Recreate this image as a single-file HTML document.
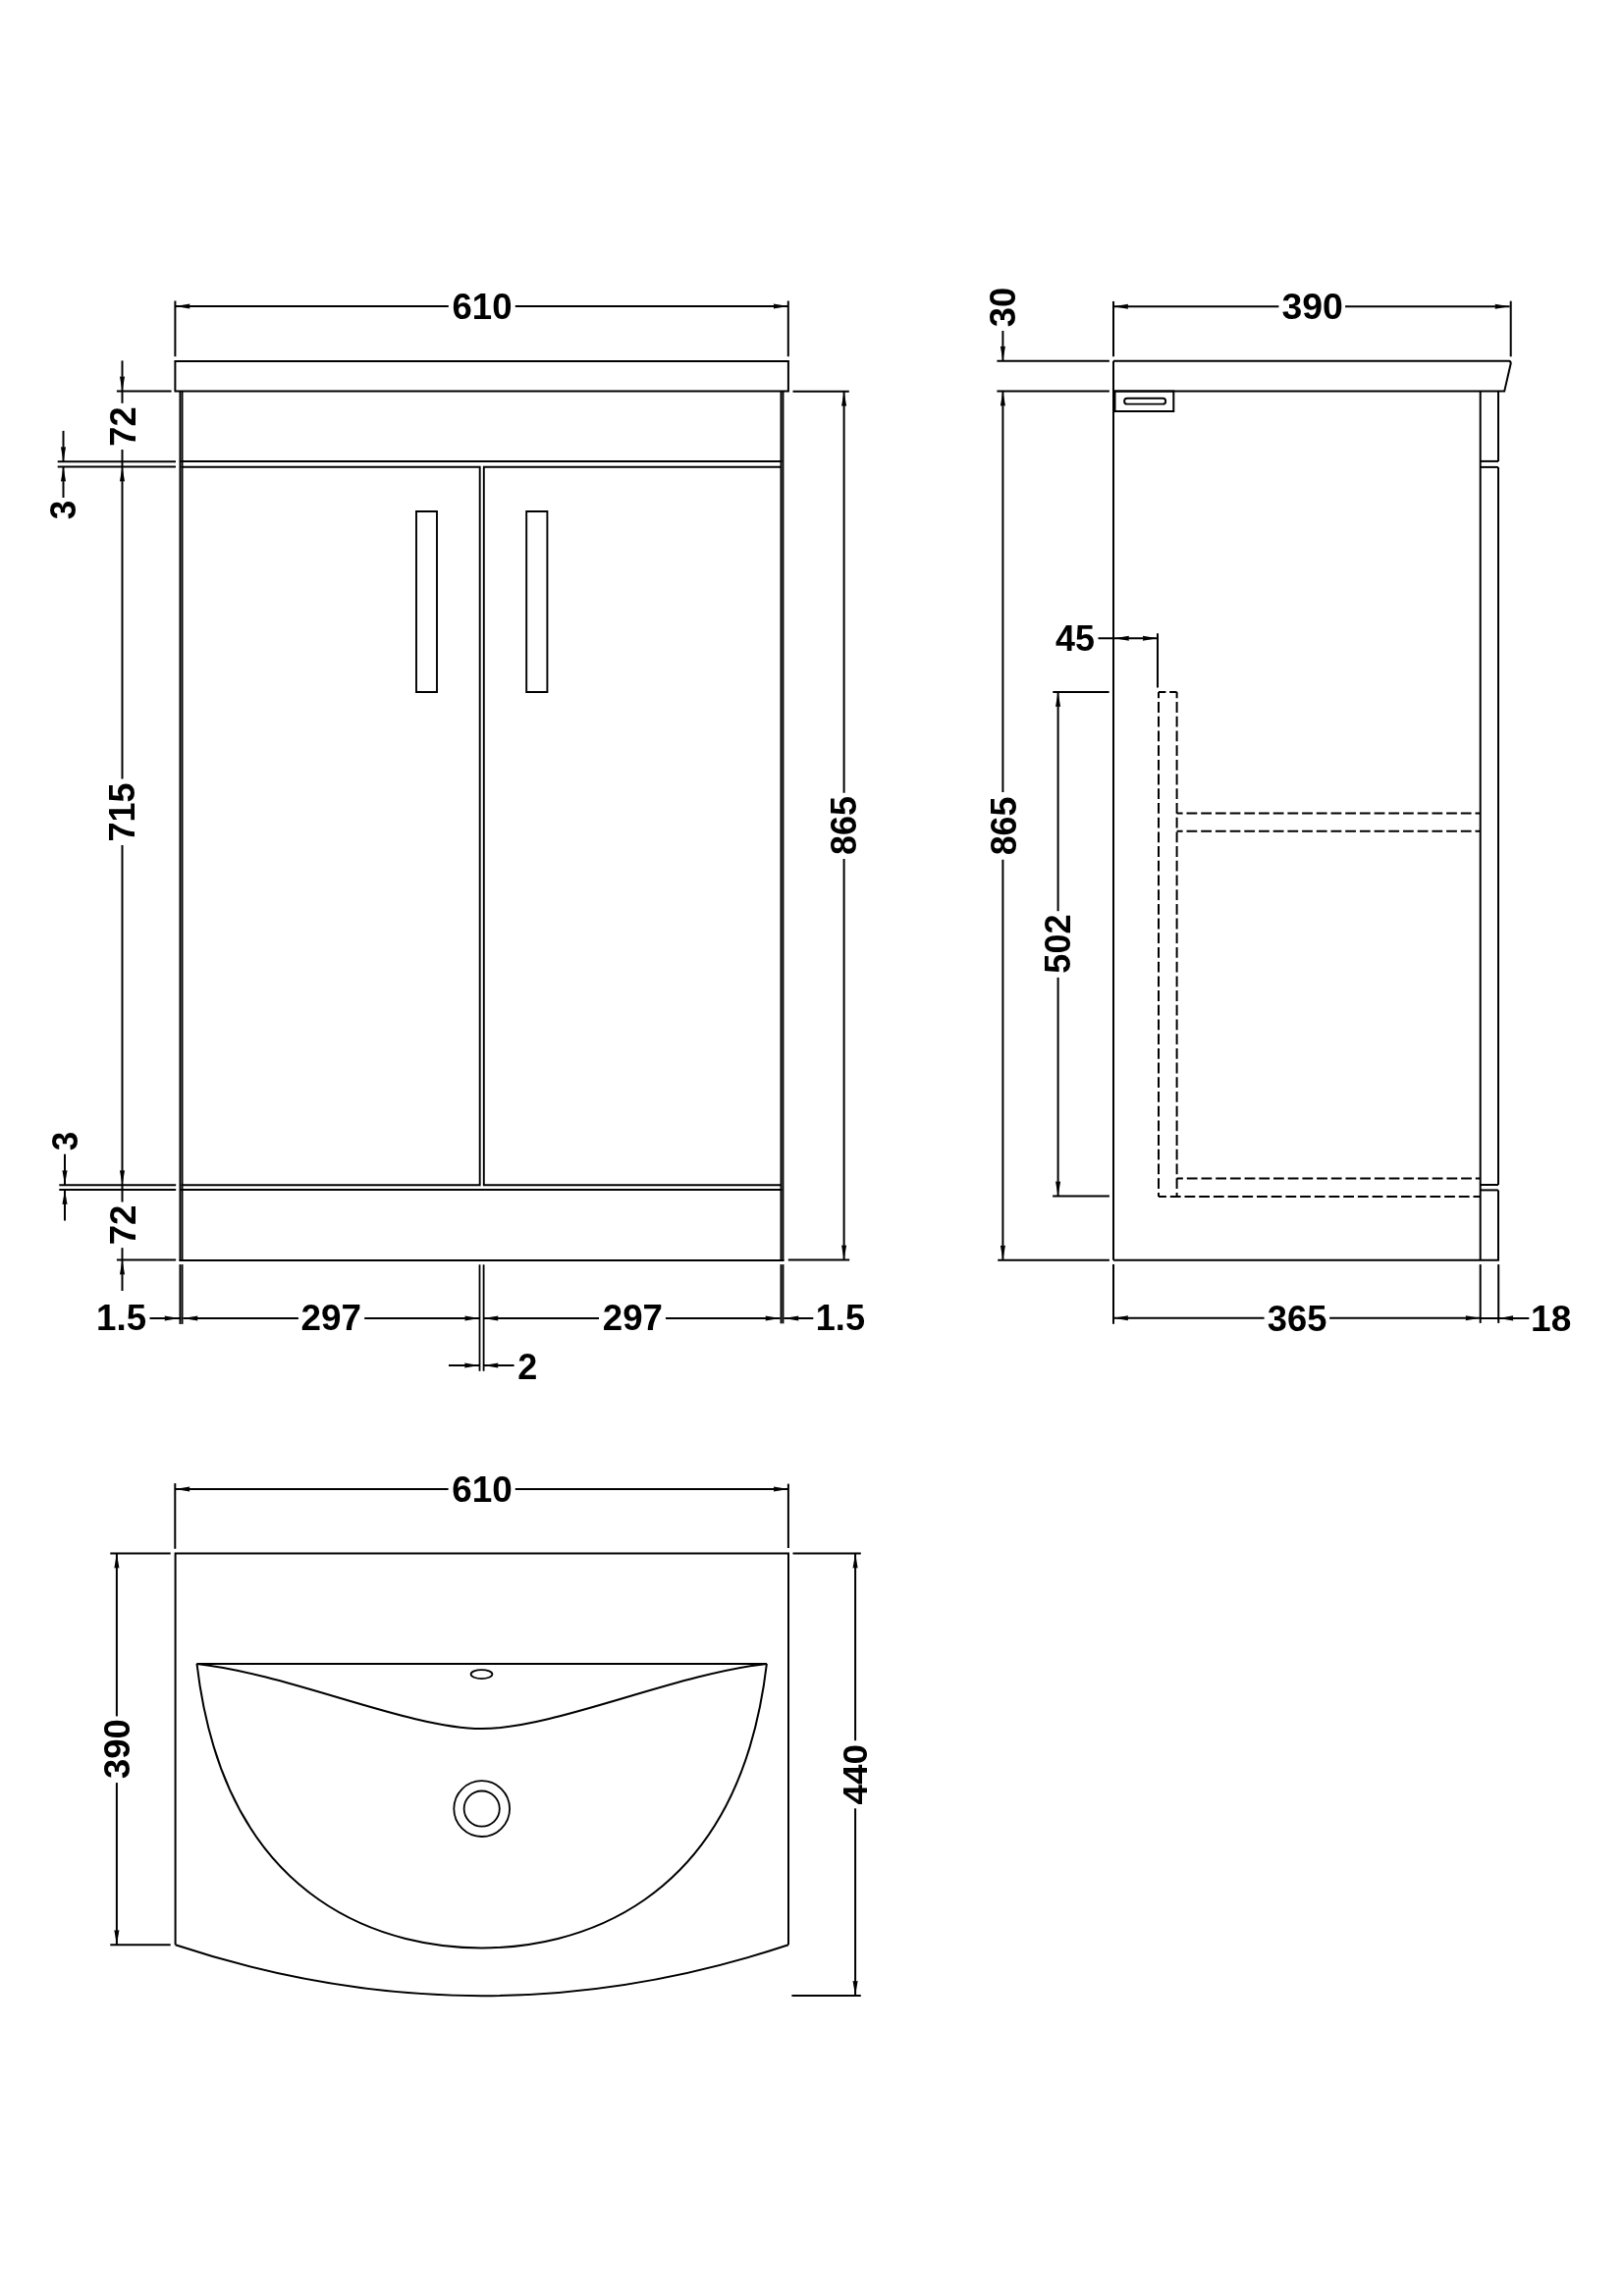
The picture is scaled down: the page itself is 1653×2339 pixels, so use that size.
<!DOCTYPE html>
<html><head><meta charset="utf-8"><style>
html,body{margin:0;padding:0;background:#fff;}
svg{display:block;filter:grayscale(1);}
text{font-family:"Liberation Sans",sans-serif;font-weight:bold;fill:#000;stroke:none;}
</style></head><body>
<svg width="1653" height="2339" viewBox="0 0 1653 2339" stroke="#000" stroke-linecap="butt">
<rect width="1653" height="2339" fill="#fff" stroke="none"/>
<line x1="178.4" y1="306.5" x2="178.4" y2="363.2" stroke-width="2.0"/>
<line x1="802.8" y1="306.5" x2="802.8" y2="363.2" stroke-width="2.0"/>
<line x1="178.4" y1="312" x2="456.8" y2="312" stroke-width="2.0"/>
<line x1="524.8" y1="312" x2="802.8" y2="312" stroke-width="2.0"/>
<path d="M178.40,312.00 L193.40,309.45 L192.90,312.00 L193.40,314.55Z" fill="#000" stroke="none"/>
<path d="M802.80,312.00 L787.80,309.45 L788.30,312.00 L787.80,314.55Z" fill="#000" stroke="none"/>
<text x="0" y="0" font-size="100.0" transform="matrix(0.36614,0.00000,0.00000,0.37042,460.51850,324.82958)">610</text>
<path d="M178.4,368.1 H802.9 V398.6 H178.4 Z" stroke-width="2.0" fill="none"/>
<line x1="183.45" y1="398.6" x2="183.45" y2="1284" stroke-width="1.9"/>
<line x1="185.55" y1="398.6" x2="185.55" y2="1284" stroke-width="1.9"/>
<line x1="795.5" y1="398.6" x2="795.5" y2="1284" stroke-width="1.9"/>
<line x1="797.5" y1="398.6" x2="797.5" y2="1284" stroke-width="1.9"/>
<line x1="184" y1="470.1" x2="796.5" y2="470.1" stroke-width="2.0"/>
<path d="M184.5,475.7 H488.7 V1207.2 H184.5" stroke-width="1.9" fill="none"/>
<path d="M796,475.7 H492.8 V1207.2 H796" stroke-width="1.9" fill="none"/>
<line x1="184" y1="1212.1" x2="796.5" y2="1212.1" stroke-width="2.0"/>
<line x1="182.4" y1="1283.9" x2="798.6" y2="1283.9" stroke-width="2.0"/>
<path d="M424,521 H445 V705 H424 Z" stroke-width="1.9" fill="none"/>
<path d="M536.2,521 H557.4 V705 H536.2 Z" stroke-width="1.9" fill="none"/>
<line x1="124.5" y1="367.4" x2="124.5" y2="410.8" stroke-width="2.0"/>
<path d="M124.50,398.50 L121.95,383.50 L124.50,384.00 L127.05,383.50Z" fill="#000" stroke="none"/>
<text x="0" y="0" font-size="100.0" transform="matrix(0.00000,-0.36390,0.36857,0.00000,137.60000,454.83756)">72</text>
<line x1="124.5" y1="458.1" x2="124.5" y2="793.6" stroke-width="2.0"/>
<path d="M124.50,475.60 L121.95,490.60 L124.50,490.10 L127.05,490.60Z" fill="#000" stroke="none"/>
<text x="0" y="0" font-size="100.0" transform="matrix(0.00000,-0.35925,0.37286,0.00000,137.02714,857.41661)">715</text>
<line x1="124.5" y1="861" x2="124.5" y2="1224.4" stroke-width="2.0"/>
<path d="M124.50,1207.20 L121.95,1192.20 L124.50,1192.70 L127.05,1192.20Z" fill="#000" stroke="none"/>
<text x="0" y="0" font-size="100.0" transform="matrix(0.00000,-0.36683,0.36857,0.00000,137.60000,1268.35073)">72</text>
<line x1="124.5" y1="1271.2" x2="124.5" y2="1315" stroke-width="2.0"/>
<path d="M124.50,1283.60 L121.95,1298.60 L124.50,1298.10 L127.05,1298.60Z" fill="#000" stroke="none"/>
<line x1="118.9" y1="398.5" x2="174.6" y2="398.5" stroke-width="2.0"/>
<line x1="58.7" y1="470.3" x2="179" y2="470.3" stroke-width="2.0"/>
<line x1="58.7" y1="475.6" x2="179" y2="475.6" stroke-width="2.0"/>
<line x1="60.3" y1="1207.2" x2="179.2" y2="1207.2" stroke-width="2.0"/>
<line x1="60.3" y1="1212.1" x2="179.2" y2="1212.1" stroke-width="2.0"/>
<line x1="118.9" y1="1283.6" x2="179.2" y2="1283.6" stroke-width="2.0"/>
<line x1="64.5" y1="438.9" x2="64.5" y2="470.3" stroke-width="2.0"/>
<path d="M64.50,470.30 L61.95,455.30 L64.50,455.80 L67.05,455.30Z" fill="#000" stroke="none"/>
<line x1="64.5" y1="475.6" x2="64.5" y2="507" stroke-width="2.0"/>
<path d="M64.50,475.60 L61.95,490.60 L64.50,490.10 L67.05,490.60Z" fill="#000" stroke="none"/>
<text x="0" y="0" font-size="100.0" transform="matrix(0.00000,-0.34949,0.37746,0.00000,77.22254,529.27374)">3</text>
<line x1="66" y1="1175.7" x2="66" y2="1207.2" stroke-width="2.0"/>
<path d="M66.00,1207.20 L63.45,1192.20 L66.00,1192.70 L68.55,1192.20Z" fill="#000" stroke="none"/>
<line x1="66" y1="1212.1" x2="66" y2="1243.5" stroke-width="2.0"/>
<path d="M66.00,1212.10 L63.45,1227.10 L66.00,1226.60 L68.55,1227.10Z" fill="#000" stroke="none"/>
<text x="0" y="0" font-size="100.0" transform="matrix(0.00000,-0.34949,0.37183,0.00000,78.92817,1172.37374)">3</text>
<line x1="807.5" y1="398.7" x2="864.8" y2="398.7" stroke-width="2.0"/>
<line x1="802.8" y1="1283.5" x2="865.2" y2="1283.5" stroke-width="2.0"/>
<line x1="859.6" y1="398.7" x2="859.6" y2="807.7" stroke-width="2.0"/>
<line x1="859.6" y1="875.1" x2="859.6" y2="1283.5" stroke-width="2.0"/>
<path d="M859.60,398.70 L857.05,413.70 L859.60,413.20 L862.15,413.70Z" fill="#000" stroke="none"/>
<path d="M859.60,1283.50 L857.05,1268.50 L859.60,1269.00 L862.15,1268.50Z" fill="#000" stroke="none"/>
<text x="0" y="0" font-size="100.0" transform="matrix(0.00000,-0.35901,0.36761,0.00000,871.83239,870.97702)">865</text>
<line x1="183.45" y1="1288.1" x2="183.45" y2="1348.9" stroke-width="1.9"/>
<line x1="185.55" y1="1288.1" x2="185.55" y2="1348.9" stroke-width="1.9"/>
<line x1="795.5" y1="1288.1" x2="795.5" y2="1348.3" stroke-width="1.9"/>
<line x1="797.5" y1="1288.1" x2="797.5" y2="1348.3" stroke-width="1.9"/>
<line x1="488.5" y1="1288.3" x2="488.5" y2="1396.8" stroke-width="1.8"/>
<line x1="492.6" y1="1288.3" x2="492.6" y2="1396.8" stroke-width="1.8"/>
<line x1="152.5" y1="1343" x2="184.3" y2="1343" stroke-width="2.0"/>
<path d="M182.60,1343.00 L167.60,1340.45 L168.10,1343.00 L167.60,1345.55Z" fill="#000" stroke="none"/>
<text x="0" y="0" font-size="100.0" transform="matrix(0.36680,0.00000,0.00000,0.36857,98.11583,1355.33143)">1.5</text>
<line x1="186.4" y1="1343" x2="303.9" y2="1343" stroke-width="2.0"/>
<path d="M186.40,1343.00 L201.40,1340.45 L200.90,1343.00 L201.40,1345.55Z" fill="#000" stroke="none"/>
<text x="0" y="0" font-size="100.0" transform="matrix(0.36855,0.00000,0.00000,0.36761,306.61006,1355.33239)">297</text>
<line x1="371.2" y1="1343" x2="488.4" y2="1343" stroke-width="2.0"/>
<path d="M488.40,1343.00 L473.40,1340.45 L473.90,1343.00 L473.40,1345.55Z" fill="#000" stroke="none"/>
<line x1="492.4" y1="1343" x2="610" y2="1343" stroke-width="2.0"/>
<path d="M492.40,1343.00 L507.40,1340.45 L506.90,1343.00 L507.40,1345.55Z" fill="#000" stroke="none"/>
<text x="0" y="0" font-size="100.0" transform="matrix(0.36604,0.00000,0.00000,0.36761,613.81887,1355.33239)">297</text>
<line x1="678" y1="1343" x2="794.6" y2="1343" stroke-width="2.0"/>
<path d="M794.60,1343.00 L779.60,1340.45 L780.10,1343.00 L779.60,1345.55Z" fill="#000" stroke="none"/>
<line x1="798.4" y1="1343" x2="828.3" y2="1343" stroke-width="2.0"/>
<path d="M798.40,1343.00 L813.40,1340.45 L812.90,1343.00 L813.40,1345.55Z" fill="#000" stroke="none"/>
<text x="0" y="0" font-size="100.0" transform="matrix(0.36139,0.00000,0.00000,0.36857,830.75097,1355.03143)">1.5</text>
<line x1="457" y1="1391" x2="488.2" y2="1391" stroke-width="2.0"/>
<path d="M488.20,1391.00 L473.20,1388.45 L473.70,1391.00 L473.20,1393.55Z" fill="#000" stroke="none"/>
<line x1="492.4" y1="1391" x2="523.6" y2="1391" stroke-width="2.0"/>
<path d="M492.40,1391.00 L507.40,1388.45 L506.90,1391.00 L507.40,1393.55Z" fill="#000" stroke="none"/>
<text x="0" y="0" font-size="100.0" transform="matrix(0.36042,0.00000,0.00000,0.37286,527.33854,1404.60000)">2</text>
<text x="0" y="0" font-size="100.0" transform="matrix(0.00000,-0.36555,0.36761,0.00000,1033.83239,333.21388)">30</text>
<line x1="1021.4" y1="337" x2="1021.4" y2="368" stroke-width="2.0"/>
<path d="M1021.40,367.80 L1018.85,352.80 L1021.40,353.30 L1023.95,352.80Z" fill="#000" stroke="none"/>
<line x1="1021.4" y1="398.6" x2="1021.4" y2="807" stroke-width="2.0"/>
<path d="M1021.40,398.60 L1018.85,413.60 L1021.40,413.10 L1023.95,413.60Z" fill="#000" stroke="none"/>
<text x="0" y="0" font-size="100.0" transform="matrix(0.00000,-0.35776,0.37465,0.00000,1034.72535,871.27329)">865</text>
<line x1="1021.4" y1="875.7" x2="1021.4" y2="1283.7" stroke-width="2.0"/>
<path d="M1021.40,1283.70 L1018.85,1268.70 L1021.40,1269.20 L1023.95,1268.70Z" fill="#000" stroke="none"/>
<line x1="1015.4" y1="367.8" x2="1129.9" y2="367.8" stroke-width="2.0"/>
<line x1="1015.4" y1="398.6" x2="1129.9" y2="398.6" stroke-width="2.0"/>
<line x1="1016.2" y1="1283.7" x2="1129.9" y2="1283.7" stroke-width="2.0"/>
<line x1="1134" y1="367.8" x2="1134" y2="1283.7" stroke-width="2.0"/>
<line x1="1134" y1="307" x2="1134" y2="363.2" stroke-width="2.0"/>
<line x1="1134" y1="1287.9" x2="1134" y2="1348.7" stroke-width="2.0"/>
<line x1="1134" y1="312.3" x2="1302.4" y2="312.3" stroke-width="2.0"/>
<line x1="1370.1" y1="312.3" x2="1537.6" y2="312.3" stroke-width="2.0"/>
<path d="M1134.00,312.30 L1149.00,309.75 L1148.50,312.30 L1149.00,314.85Z" fill="#000" stroke="none"/>
<path d="M1537.60,312.30 L1522.60,309.75 L1523.10,312.30 L1522.60,314.85Z" fill="#000" stroke="none"/>
<text x="0" y="0" font-size="100.0" transform="matrix(0.37445,0.00000,0.00000,0.37324,1305.46386,325.22676)">390</text>
<line x1="1538.7" y1="306.7" x2="1538.7" y2="363.3" stroke-width="2.0"/>
<path d="M1134,367.7 H1536.8 Q1538.9,368 1538.7,370.3 L1532.2,398.6 H1134" stroke-width="2.0" fill="none"/>
<path d="M1134,398.6 H1195.3 V419.1 H1134" stroke-width="2.0" fill="none"/>
<line x1="1135.7" y1="398.6" x2="1135.7" y2="419.1" stroke-width="1.6"/>
<rect x="1145.1" y="405.7" width="42.1" height="5.9" rx="2.95" ry="2.95" fill="none" stroke-width="1.9"/>
<line x1="1507.7" y1="398.6" x2="1507.7" y2="1283.8" stroke-width="2.0"/>
<line x1="1526" y1="398.6" x2="1526" y2="469.9" stroke-width="2.0"/>
<line x1="1526" y1="475.9" x2="1526" y2="1207" stroke-width="2.0"/>
<line x1="1526" y1="1212.4" x2="1526" y2="1283.8" stroke-width="2.0"/>
<line x1="1507.7" y1="469.9" x2="1526" y2="469.9" stroke-width="2.0"/>
<line x1="1507.7" y1="475.9" x2="1526" y2="475.9" stroke-width="2.0"/>
<line x1="1507.7" y1="1207" x2="1526" y2="1207" stroke-width="2.0"/>
<line x1="1507.7" y1="1212.4" x2="1526" y2="1212.4" stroke-width="2.0"/>
<line x1="1134" y1="1283.8" x2="1526.9" y2="1283.8" stroke-width="2.0"/>
<text x="0" y="0" font-size="100.0" transform="matrix(0.35888,0.00000,0.00000,0.37000,1075.06168,663.33000)">45</text>
<line x1="1118.5" y1="650.2" x2="1178.9" y2="650.2" stroke-width="2.0"/>
<path d="M1134.90,650.20 L1149.90,647.65 L1149.40,650.20 L1149.90,652.75Z" fill="#000" stroke="none"/>
<path d="M1178.90,650.20 L1163.90,647.65 L1164.40,650.20 L1163.90,652.75Z" fill="#000" stroke="none"/>
<line x1="1179" y1="645.3" x2="1179" y2="700.5" stroke-width="2.0"/>
<line x1="1072.3" y1="705" x2="1129.6" y2="705" stroke-width="2.0"/>
<line x1="1072.1" y1="1218.5" x2="1129.9" y2="1218.5" stroke-width="2.0"/>
<line x1="1077.6" y1="705" x2="1077.6" y2="928.2" stroke-width="2.0"/>
<path d="M1077.60,705.00 L1075.05,720.00 L1077.60,719.50 L1080.15,720.00Z" fill="#000" stroke="none"/>
<text x="0" y="0" font-size="100.0" transform="matrix(0.00000,-0.36125,0.36901,0.00000,1089.83099,991.68375)">502</text>
<line x1="1077.6" y1="995.8" x2="1077.6" y2="1218.5" stroke-width="2.0"/>
<path d="M1077.60,1218.50 L1075.05,1203.50 L1077.60,1204.00 L1080.15,1203.50Z" fill="#000" stroke="none"/>
<path d="M1180,705 V1219" stroke-width="2.0" fill="none" stroke-dasharray="10.8 3.9" stroke-dashoffset="4.60"/>
<path d="M1180,705 H1198.6" stroke-width="2.0" fill="none" stroke-dasharray="7.4 3.8" stroke-dashoffset="0.00"/>
<path d="M1198.6,705 V1219" stroke-width="2.0" fill="none" stroke-dasharray="10.8 3.9" stroke-dashoffset="4.60"/>
<path d="M1198.6,828.6 H1507.7" stroke-width="2.0" fill="none" stroke-dasharray="10.8 3.9" stroke-dashoffset="4.80"/>
<path d="M1198.6,846.8 H1507.7" stroke-width="2.0" fill="none" stroke-dasharray="10.8 3.9" stroke-dashoffset="4.80"/>
<path d="M1198.6,1200.5 H1507.7" stroke-width="2.0" fill="none" stroke-dasharray="10.8 3.9" stroke-dashoffset="4.50"/>
<path d="M1180,1219 H1507.7" stroke-width="2.0" fill="none" stroke-dasharray="10.8 3.9" stroke-dashoffset="2.90"/>
<line x1="1507.7" y1="1288.1" x2="1507.7" y2="1347.9" stroke-width="2.0"/>
<line x1="1526.2" y1="1288.1" x2="1526.2" y2="1347.9" stroke-width="2.0"/>
<line x1="1134" y1="1342.7" x2="1287.6" y2="1342.7" stroke-width="2.0"/>
<line x1="1354.1" y1="1342.7" x2="1507.7" y2="1342.7" stroke-width="2.0"/>
<path d="M1134.00,1342.70 L1149.00,1340.15 L1148.50,1342.70 L1149.00,1345.25Z" fill="#000" stroke="none"/>
<path d="M1507.70,1342.70 L1492.70,1340.15 L1493.20,1342.70 L1492.70,1345.25Z" fill="#000" stroke="none"/>
<text x="0" y="0" font-size="100.0" transform="matrix(0.36347,0.00000,0.00000,0.37324,1290.79133,1355.82676)">365</text>
<line x1="1507.7" y1="1342.9" x2="1557.3" y2="1342.9" stroke-width="2.0"/>
<path d="M1526.20,1342.90 L1541.20,1340.35 L1540.70,1342.90 L1541.20,1345.45Z" fill="#000" stroke="none"/>
<text x="0" y="0" font-size="100.0" transform="matrix(0.37143,0.00000,0.00000,0.37042,1558.98571,1355.52958)">18</text>
<line x1="178.3" y1="1511.1" x2="178.3" y2="1577.8" stroke-width="2.0"/>
<line x1="802.9" y1="1511.6" x2="802.9" y2="1577" stroke-width="2.0"/>
<line x1="178.3" y1="1517" x2="456.6" y2="1517" stroke-width="2.0"/>
<line x1="524.8" y1="1517" x2="802.9" y2="1517" stroke-width="2.0"/>
<path d="M178.30,1517.00 L193.30,1514.45 L192.80,1517.00 L193.30,1519.55Z" fill="#000" stroke="none"/>
<path d="M802.90,1517.00 L787.90,1514.45 L788.40,1517.00 L787.90,1519.55Z" fill="#000" stroke="none"/>
<text x="0" y="0" font-size="100.0" transform="matrix(0.36928,0.00000,0.00000,0.37042,460.30752,1529.82958)">610</text>
<path d="M178.6,1981.3 V1582.5 H803 V1981.3" stroke-width="2.0" fill="none"/>
<path d="M178.6,1981.3 Q491,2085 803,1981.3" stroke-width="2.0" fill="none"/>
<line x1="112.3" y1="1582.5" x2="173.7" y2="1582.5" stroke-width="2.0"/>
<line x1="807.5" y1="1582.5" x2="876.8" y2="1582.5" stroke-width="2.0"/>
<line x1="112.3" y1="1981.3" x2="173.7" y2="1981.3" stroke-width="2.0"/>
<line x1="806.4" y1="2033" x2="876.8" y2="2033" stroke-width="2.0"/>
<line x1="118.9" y1="1582.5" x2="118.9" y2="1748.4" stroke-width="2.0"/>
<path d="M118.90,1582.50 L116.35,1597.50 L118.90,1597.00 L121.45,1597.50Z" fill="#000" stroke="none"/>
<text x="0" y="0" font-size="100.0" transform="matrix(0.00000,-0.36386,0.37042,0.00000,131.52958,1811.90966)">390</text>
<line x1="118.9" y1="1816.1" x2="118.9" y2="1981.3" stroke-width="2.0"/>
<path d="M118.90,1981.30 L116.35,1966.30 L118.90,1966.80 L121.45,1966.30Z" fill="#000" stroke="none"/>
<line x1="871.1" y1="1582.5" x2="871.1" y2="1773.2" stroke-width="2.0"/>
<path d="M871.10,1582.50 L868.55,1597.50 L871.10,1597.00 L873.65,1597.50Z" fill="#000" stroke="none"/>
<text x="0" y="0" font-size="100.0" transform="matrix(0.00000,-0.36966,0.35915,0.00000,883.44085,1838.55449)">440</text>
<line x1="871.1" y1="1842.3" x2="871.1" y2="2033" stroke-width="2.0"/>
<path d="M871.10,2033.00 L868.55,2018.00 L871.10,2018.50 L873.65,2018.00Z" fill="#000" stroke="none"/>
<line x1="200.5" y1="1694.9" x2="780.9" y2="1694.9" stroke-width="2.0"/>
<path d="M200.5,1694.9 C230.5,1949.1 404.4,1984.4 490.7,1984.4 C577,1984.4 750.9,1949.1 780.9,1694.9" stroke-width="2.0" fill="none"/>
<path d="M200.5,1694.9 C295.1,1705.5 416.3,1761.1 490.7,1761.1 C565.1,1761.1 686.3,1705.5 780.9,1694.9" stroke-width="2.0" fill="none"/>
<ellipse cx="490.5" cy="1705.6" rx="10.9" ry="4.5" fill="none" stroke-width="1.8"/>
<circle cx="490.7" cy="1842.6" r="28.4" fill="none" stroke-width="1.8"/>
<circle cx="490.7" cy="1842.6" r="18.1" fill="none" stroke-width="1.8"/>
</svg></body></html>
